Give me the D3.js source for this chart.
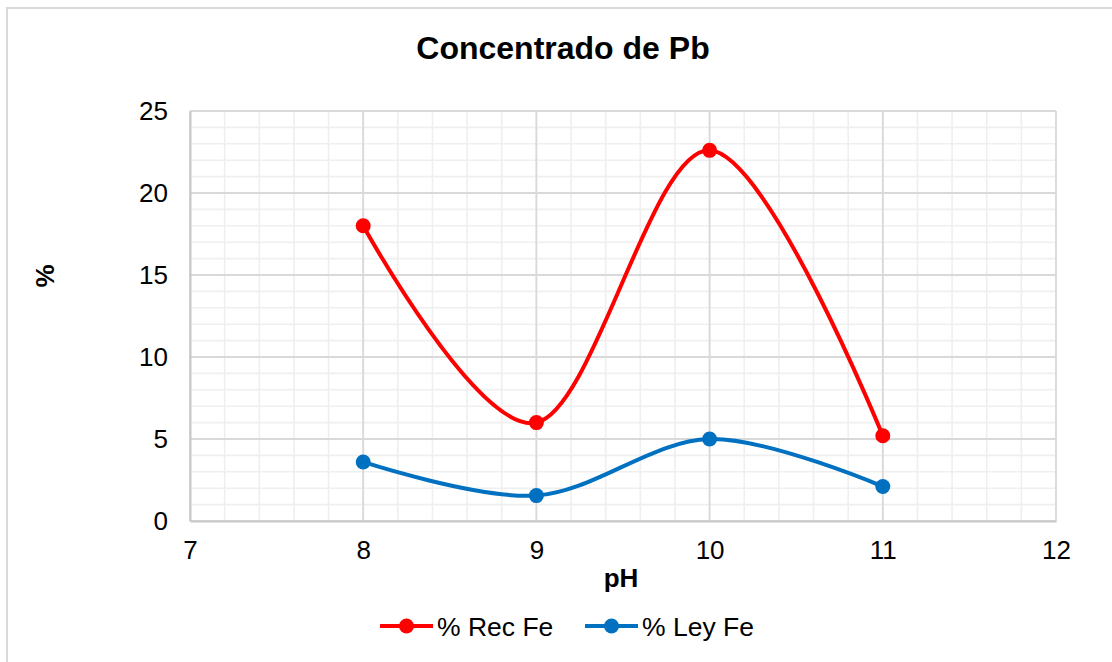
<!DOCTYPE html>
<html>
<head>
<meta charset="utf-8">
<script src="https://cdn.jsdelivr.net/npm/d3@7"></script>
<style>
  html, body { margin: 0; padding: 0; background: #fff; }
  svg { display: block; font-family: "Liberation Sans", Arial, sans-serif; }
</style>
</head>
<body>
<svg id="chart" width="1112" height="662"></svg>
<script>
// pH values and the two measured series
const phValues = [8, 9, 10, 11];
const recFe = [18.0, 6.0, 22.6, 5.2];
const leyFe = [3.6, 1.55, 5.0, 2.1];
const xTicks = [7, 8, 9, 10, 11, 12];
const yTicks = [0, 5, 10, 15, 20, 25];
const seriesNames = ["% Rec Fe", "% Ley Fe"];
const seriesColors = ["#FF0000", "#0070C0"];

const svg = d3.select("#chart");
const W = 1112, H = 662;
const plot = { left: 190, right: 1056, top: 111, bottom: 521 };

// chart frame
svg.append("rect")
  .attr("x", 7).attr("y", 8)
  .attr("width", W + 20).attr("height", H + 20)
  .attr("fill", "#fff").attr("stroke", "#d9d9d9").attr("stroke-width", 2);

const x = d3.scaleLinear().domain([7, 12]).range([plot.left, plot.right]);
const y = d3.scaleLinear().domain([0, 25]).range([plot.bottom, plot.top]);

// minor gridlines
const gMinor = svg.append("g").attr("stroke", "#efefef").attr("stroke-width", 1.6);
d3.range(7, 12.0001, 0.2).forEach(v => {
  gMinor.append("line").attr("x1", x(v)).attr("x2", x(v)).attr("y1", plot.top).attr("y2", plot.bottom);
});
d3.range(0, 25.0001, 1).forEach(v => {
  gMinor.append("line").attr("x1", plot.left).attr("x2", plot.right).attr("y1", y(v)).attr("y2", y(v));
});

// major gridlines
const gMajor = svg.append("g").attr("stroke", "#d9d9d9").attr("stroke-width", 1.8);
xTicks.forEach(v => {
  gMajor.append("line").attr("x1", x(v)).attr("x2", x(v)).attr("y1", plot.top).attr("y2", plot.bottom);
});
yTicks.forEach(v => {
  gMajor.append("line").attr("x1", plot.left).attr("x2", plot.right).attr("y1", y(v)).attr("y2", y(v));
});

// axes
const xAxis = d3.axisBottom(x).tickValues(xTicks).tickSize(0).tickPadding(20).tickFormat(d3.format("d"));
const yAxis = d3.axisLeft(y).tickValues(yTicks).tickSize(0).tickPadding(22).tickFormat(d3.format("d"));

const gx = svg.append("g").attr("transform", `translate(0,${plot.bottom})`).call(xAxis);
const gy = svg.append("g").attr("transform", `translate(${plot.left},0)`).call(yAxis);
[gx, gy].forEach(g => {
  g.select(".domain").attr("stroke", "#c8c8c8").attr("stroke-width", 2);
  g.selectAll("text").attr("font-size", 26).attr("fill", "#000")
    .attr("font-family", "Liberation Sans, Arial, sans-serif");
});

// series lines and markers
const line = d3.line()
  .x((d, i) => x(phValues[i]))
  .y(d => y(d))
  .curve(d3.curveCardinal.tension(0));

[recFe, leyFe].forEach((vals, s) => {
  svg.append("path")
    .attr("d", line(vals))
    .attr("fill", "none")
    .attr("stroke", seriesColors[s])
    .attr("stroke-width", 4)
    .attr("stroke-linejoin", "round");
  svg.append("g").selectAll("circle").data(vals).join("circle")
    .attr("cx", (d, i) => x(phValues[i]))
    .attr("cy", d => y(d))
    .attr("r", 7.5)
    .attr("fill", seriesColors[s]);
});

// title
svg.append("text")
  .attr("x", 563).attr("y", 59)
  .attr("text-anchor", "middle")
  .attr("font-size", 32).attr("font-weight", "bold")
  .text("Concentrado de Pb");

// axis titles
svg.append("text")
  .attr("x", 621).attr("y", 587)
  .attr("text-anchor", "middle")
  .attr("font-size", 26).attr("font-weight", "bold")
  .text("pH");

svg.append("text")
  .attr("transform", "translate(54,276) rotate(-90)")
  .attr("text-anchor", "middle")
  .attr("font-size", 26).attr("font-weight", "bold")
  .text("%");

// legend
const legendX = [380, 585];
seriesNames.forEach((name, s) => {
  const g = svg.append("g").attr("transform", `translate(${legendX[s]},626)`);
  g.append("line").attr("x1", 0).attr("x2", 53).attr("y1", 0).attr("y2", 0)
    .attr("stroke", seriesColors[s]).attr("stroke-width", 4);
  g.append("circle").attr("cx", 26.5).attr("cy", 0).attr("r", 7.5).attr("fill", seriesColors[s]);
  g.append("text").attr("x", 57).attr("y", 9.5)
    .attr("font-size", 26.5).attr("fill", "#000")
    .text(name);
});
</script>
</body>
</html>
